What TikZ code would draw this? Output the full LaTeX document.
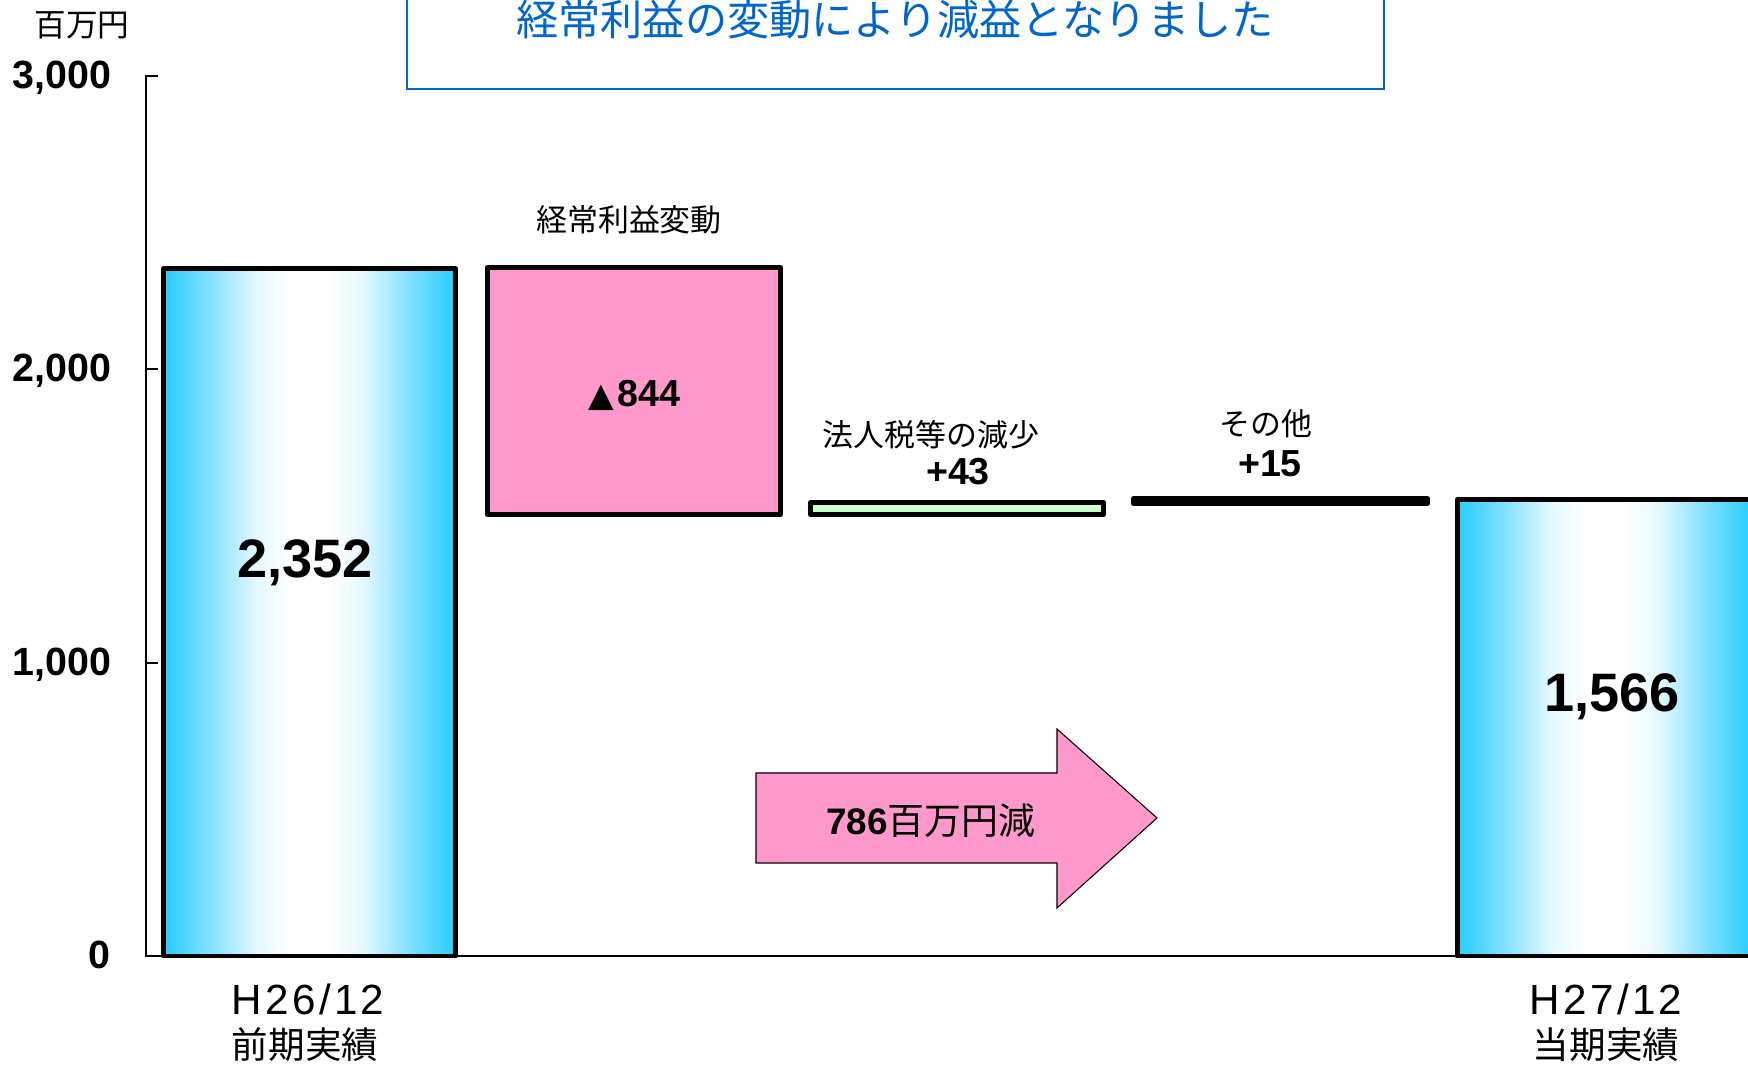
\documentclass[tikz,border=0pt]{standalone}
\usepackage{fontspec}
\setmainfont{Liberation Sans}
\newfontfamily\jpfont{Noto Sans CJK JP}
\newfontfamily\symfont{DejaVu Sans}
\newfontfamily\widefont[LetterSpace=8]{Liberation Sans}
\usepackage{tikz}
\usepackage{xcolor}
\definecolor{barcyan}{RGB}{38,204,255}
\definecolor{steppink}{RGB}{255,153,204}
\definecolor{stepgreen}{RGB}{204,255,204}
\definecolor{titleblue}{RGB}{0,102,204}
\pgfdeclarehorizontalshading{barshade}{100bp}{color(0bp)=(barcyan); color(25bp)=(barcyan);
  color(33.5bp)=(barcyan!55!white); color(41bp)=(barcyan!12!white); color(47bp)=(white);
  color(53bp)=(white); color(59bp)=(barcyan!12!white); color(66.5bp)=(barcyan!55!white);
  color(75bp)=(barcyan); color(100bp)=(barcyan)}
\tikzstyle{bar} = [line width=1.4pt, line join=round, shading=barshade]
\tikzstyle{stepbox} = [line width=1.4pt, line join=round, draw=black]
\tikzstyle{ticklabel} = [anchor=base east, font=\bfseries\fontsize{11.2}{13}\selectfont]
\tikzstyle{steplabel} = [font=\jpfont\fontsize{8.8}{10}\selectfont]
\tikzstyle{stepvalue} = [anchor=base, font=\bfseries\fontsize{10.7}{12}\selectfont]
\tikzstyle{total} = [anchor=base, font=\bfseries\fontsize{15.4}{17}\selectfont]
\tikzstyle{period} = [anchor=base, font=\widefont\fontsize{12}{14}\selectfont]
\tikzstyle{periodjp} = [font=\jpfont\fontsize{10.4}{12}\selectfont]

\begin{document}
\begin{tikzpicture}[x=0.01cm, y=-0.01cm, inner sep=0pt]
\clip (0,0) rectangle (1748,1068);

% Axis
\draw[line width=0.6pt] (158,76) -- (146,76) -- (146,956) -- (1457,956);
\draw[line width=0.6pt] (146,369) -- (158,369);
\draw[line width=0.6pt] (146,663) -- (158,663);
\node[font=\jpfont\fontsize{9}{10}\selectfont] (unit) at (82,25) {百万円};
\node[ticklabel] (y3000) at (112,89) {3,000};
\node[ticklabel] (y2000) at (112,382) {2,000};
\node[ticklabel] (y1000) at (112,676) {1,000};
\node[ticklabel] (y0) at (111,969) {0};

% Title
\draw[line width=0.8pt, titleblue] (407,-10) rectangle (1384,89);
\node[font=\jpfont\fontsize{12}{14}\selectfont, text=titleblue] (title) at (895,20) {経常利益の変動により減益となりました};

% Bars
\draw[bar] (163.5,268.5) rectangle (455.5,956);
\draw[bar] (1457.5,499.5) rectangle (1752,956);
\node[total] (prev) at (305,578) {2,352};
\node[total] (curr) at (1612,712) {1,566};

% Steps
\draw[stepbox, fill=steppink] (487.5,267.5) rectangle (780.5,514.5);
\draw[stepbox, fill=stepgreen] (810.5,502.5) rectangle (1103.5,514.5);
\draw[stepbox, fill=black] (1133.5,498.5) rectangle (1427.5,503.5);
\node[steplabel] (ordinary) at (629,220) {経常利益変動};
\node[stepvalue] (ordval) at (634,407) {{\symfont\fontsize{9.5}{10}\selectfont ▲}\kern1pt 844};
\node[steplabel] (tax) at (931,435) {法人税等の減少};
\node[stepvalue] (taxval) at (958,485) {+43};
\node[steplabel] (other) at (1266,424) {その他};
\node[stepvalue] (otherval) at (1270,477) {+15};

% Change arrow
\draw[line width=0.3pt, fill=steppink] (756,773) -- (1057,773) -- (1057,729) -- (1157,818) -- (1057,908) -- (1057,863) -- (756,863) -- cycle;
\node[font=\fontsize{10.5}{12}\selectfont] (change) at (931,821) {{\bfseries 786}{\jpfont 百万円減}};

% Periods
\node[period] (h26) at (308,1015) {H26/12};
\node[periodjp] (h26jp) at (305,1045) {前期実績};
\node[period] (h27) at (1606,1015) {H27/12};
\node[periodjp] (h27jp) at (1606,1045) {当期実績};
\end{tikzpicture}
\end{document}
